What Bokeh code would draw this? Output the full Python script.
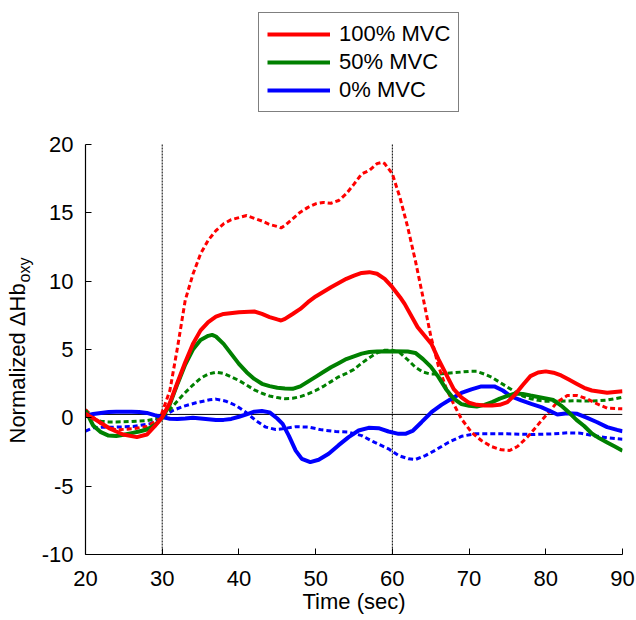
from bokeh.plotting import figure
from bokeh.models import Span, Label, Legend, LegendItem, FixedTicker, CustomJSTickFormatter
from bokeh.layouts import row
from bokeh.embed import file_html
from bokeh.resources import INLINE

# ---- data ----
t_100_solid = [20, 21.5, 23.2, 24.9, 26.7, 28, 29, 30, 31, 32, 33, 34, 35, 36, 37, 38, 40, 42, 43, 44, 45, 45.5,
               46, 47, 48, 49, 50, 52, 54, 55, 56, 57, 58, 59, 60, 61, 61.6, 63.3, 65.1, 66, 67, 68, 69, 70, 71,
               72, 73, 74, 75, 76, 77, 78, 79, 80, 81, 82, 83, 84, 85, 86, 88, 90]
hb_100_solid = [0.3, -0.2, -0.8, -1.22, -1.41, -1.22, -0.63, 0.05, 1.1, 2.6, 4.07, 5.4, 6.4, 7.0, 7.4, 7.6, 7.73,
                7.78, 7.6, 7.37, 7.2, 7.12, 7.24, 7.6, 7.97, 8.46, 8.88, 9.56, 10.17, 10.4, 10.6, 10.66, 10.54,
                10.17, 9.56, 8.83, 8.34, 6.63, 5.4, 4.3, 3.2, 2.1, 1.5, 1.1, 0.95, 0.9, 0.9, 0.95, 1.15, 1.7, 2.4,
                3.05, 3.32, 3.4, 3.3, 3.1, 2.8, 2.5, 2.2, 2.0, 1.83, 1.95]

t_100_dash = [20, 21, 22.3, 24, 26.2, 28, 29.7, 31, 32, 33, 34, 35, 36, 37, 38, 39, 40, 41, 42, 43, 44, 45, 45.5,
              46, 47, 48, 49, 50, 51, 52, 53, 54, 55, 56, 57, 58, 58.7, 59, 60, 61, 62, 63, 64, 65, 66, 67, 68,
              69, 70.3, 71.6, 72.9, 74.2, 75.3, 76.3, 77.6, 78.9, 80.2, 81.5, 82.8, 84.1, 85.4, 86.7, 88, 90]
hb_100_dash = [0.6, 0.05, -0.56, -0.88, -0.8, -0.63, -0.07, 2.0, 5.17, 8.6, 10.5, 12.0, 13.0, 13.7, 14.2, 14.5,
               14.65, 14.8, 14.6, 14.4, 14.15, 14.0, 13.9, 14.07, 14.56, 15.05, 15.4, 15.66, 15.76, 15.7, 15.9,
               16.4, 17.1, 17.85, 18.1, 18.6, 18.7, 18.6, 17.85, 16.1, 13.95, 11.5, 8.8, 6.0, 3.8, 2.2, 1.0,
               -0.07, -1.05, -1.66, -2.1, -2.34, -2.39, -2.1, -1.41, -0.56, 0.29, 1.15, 1.63, 1.63, 1.39, 1.02,
               0.7, 0.66]

t_50_solid = [20, 21, 22, 23, 24, 25, 26, 27, 28, 29, 30, 31, 32, 33, 34, 35, 36, 36.5, 37, 38, 39, 40, 41, 42,
              43, 44, 45, 46, 47, 48, 49, 50, 51, 52, 53, 54, 55, 56, 57, 58, 60, 62, 63, 64, 65, 66, 67, 68, 69,
              70, 71, 72, 73, 74, 75, 76, 77, 78, 80, 81, 82, 83, 84, 85, 86, 87, 88, 89, 90]
hb_50_solid = [0.54, -0.56, -1.05, -1.3, -1.33, -1.24, -1.12, -1.0, -0.85, -0.55, 0.0, 1.0, 2.5, 3.9, 5.0, 5.7,
               6.0, 6.07, 5.95, 5.41, 4.68, 3.95, 3.34, 2.85, 2.49, 2.32, 2.2, 2.15, 2.12, 2.3, 2.65, 3.0, 3.35,
               3.7, 4.0, 4.3, 4.5, 4.7, 4.82, 4.85, 4.88, 4.85, 4.75, 4.3, 3.75, 3.0, 2.1, 1.4, 1.0, 0.88, 0.83,
               0.95, 1.15, 1.4, 1.6, 1.78, 1.75, 1.63, 1.42, 1.3, 0.9, 0.4, -0.15, -0.6, -1.15, -1.5, -1.8, -2.1,
               -2.4]

t_50_dash = [20, 21, 22, 23, 24, 26, 28, 29, 30, 31, 32, 33, 34, 35, 36, 37, 38, 39, 40, 41, 42, 43, 44, 45, 46,
             47, 48, 49, 50, 51, 52, 53, 54, 55, 56, 57, 58, 59, 60, 61, 62, 63, 64, 65, 66, 67, 68, 69, 70, 71,
             72, 73, 74, 75, 76, 77, 78, 79, 80, 82, 84, 86, 88, 90]
hb_50_dash = [0.3, -0.05, -0.25, -0.3, -0.3, -0.27, -0.2, -0.1, 0.1, 0.6, 1.25, 1.85, 2.4, 2.9, 3.2, 3.34, 3.25,
              3.0, 2.73, 2.4, 2.05, 1.8, 1.6, 1.48, 1.4, 1.43, 1.55, 1.75, 2.0, 2.3, 2.65, 3.0, 3.25, 3.55, 4.0,
              4.4, 4.75, 4.95, 4.95, 4.75, 4.25, 3.7, 3.35, 3.2, 3.2, 3.25, 3.3, 3.35, 3.4, 3.4, 3.2, 2.95, 2.6,
              2.25, 1.9, 1.6, 1.4, 1.28, 1.22, 1.22, 1.25, 1.22, 1.3, 1.5]

t_0_solid = [20, 21, 22, 23, 24, 26, 27, 28, 29, 30, 31, 32, 33, 34, 35, 36, 37, 38, 39, 40, 41, 42, 43, 44, 45,
             45.7, 46.5, 47.4, 48.2, 49.3, 50.4, 51.7, 53, 54.3, 55.6, 56.9, 58.2, 59.5, 60.8, 61.7, 62.7, 63.8,
             65.1, 66.4, 67.7, 69, 70.3, 71.6, 73.3, 74.4, 75.5, 76.8, 78.1, 79.4, 80.7, 81.5, 82.8, 84.1, 85.4,
             86.7, 88, 89.3, 90]
hb_0_solid = [0.15, 0.28, 0.36, 0.42, 0.44, 0.44, 0.42, 0.36, 0.2, 0.05, -0.07, -0.08, -0.05, 0.0, -0.05, -0.1,
              -0.15, -0.15, -0.08, 0.08, 0.26, 0.45, 0.5, 0.4, -0.05, -0.44, -1.3, -2.4, -3.0, -3.24, -3.07,
              -2.63, -2.0, -1.41, -0.93, -0.73, -0.76, -1.0, -1.17, -1.17, -0.93, -0.32, 0.41, 0.95, 1.4, 1.82,
              2.08, 2.3, 2.3, 2.0, 1.56, 1.27, 1.02, 0.78, 0.46, 0.24, 0.34, 0.29, 0.0, -0.32, -0.68, -0.88, -0.98]

t_0_dash = [20, 21, 22.3, 24, 26.2, 28.4, 30, 31.4, 32.7, 34.4, 36.2, 37, 38.3, 39.6, 40.9, 42.2, 43.5, 44.8,
            45.7, 47.4, 49.1, 50.8, 52.6, 54.3, 56, 57.7, 59.5, 60.8, 62.1, 63, 64.3, 65.5, 67.3, 69, 70.8, 72,
            75, 78.4, 81, 82.8, 84.5, 86.2, 88, 90]
hb_0_dash = [-0.98, -0.73, -0.68, -0.68, -0.63, -0.44, 0.05, 0.54, 0.83, 1.1, 1.32, 1.37, 1.22, 0.9, 0.41, -0.2,
             -0.68, -0.85, -0.8, -0.65, -0.68, -0.88, -1.0, -1.05, -1.3, -1.8, -2.27, -2.76, -3.0, -3.05, -2.76,
             -2.4, -1.8, -1.35, -1.17, -1.17, -1.17, -1.22, -1.17, -1.1, -1.12, -1.3, -1.46, -1.56]

labels = ["100% MVC", "50% MVC", "0% MVC"]
colors = ["#ff0000", "#008000", "#0000ff"]
x_ticks = [20, 30, 40, 50, 60, 70, 80, 90]
y_ticks = [-10, -5, 0, 5, 10, 15, 20]
event_times = [30, 60]
baseline_level = 0.25

FONT = "Liberation Sans"
W, H = 636, 620
YLAB_W = 38
FRAME_L, FRAME_R, FRAME_T, FRAME_B = 82, 622, 144, 554   # where the y-axis 20..-10 sits

# frame is extended up to the canvas top so the legend can sit inside it
px_per_unit = (FRAME_B - FRAME_T) / (y_ticks[-1] - y_ticks[0])
y_top = y_ticks[-1] + FRAME_T / px_per_unit

# narrow figure that only carries the rotated y title (its frame bottom aligns with the main frame bottom)
ylab = figure(width=YLAB_W, height=H, x_range=(0, 1), y_range=(0, 1),
              output_backend="svg", toolbar_location=None,
              x_axis_location=None, y_axis_location=None,
              min_border_left=0, min_border_right=0, min_border_top=0, min_border_bottom=0)
ylab.outline_line_color = None
ylab.xgrid.visible = False
ylab.ygrid.visible = False
ylab.add_layout(Label(x=17, y=FRAME_B - 443, x_units="screen", y_units="screen", text="Normalized \u0394Hb",
                      angle=1.5707963, text_align="left", text_baseline="alphabetic",
                      text_font=FONT, text_font_size="22px", text_color="black"))
ylab.add_layout(Label(x=24, y=FRAME_B - 282, x_units="screen", y_units="screen", text="oxy",
                      angle=1.5707963, text_align="left", text_baseline="alphabetic",
                      text_font=FONT, text_font_size="16px", text_color="black"))

p = figure(width=W - YLAB_W, height=H, x_range=(x_ticks[0], x_ticks[-1]), y_range=(y_ticks[0], y_top),
           output_backend="svg", toolbar_location=None,
           min_border_left=FRAME_L - YLAB_W, min_border_right=W - FRAME_R,
           min_border_top=0, min_border_bottom=H - FRAME_B)
p.outline_line_color = None
p.background_fill_color = "white"
p.border_fill_color = "white"
p.xgrid.visible = False
p.ygrid.visible = False

for ax, ticks in ((p.xaxis, x_ticks), (p.yaxis, y_ticks)):
    ax.ticker = FixedTicker(ticks=ticks)
    ax.bounds = (ticks[0], ticks[-1])
    ax.major_tick_in = 6
    ax.major_tick_out = 0
    ax.minor_tick_line_color = None
    ax.axis_line_color = "black"
    ax.axis_line_width = 1.2
    ax.major_tick_line_color = "black"
    ax.major_label_text_font = FONT
    ax.major_label_text_font_size = "22px"
    ax.major_label_text_color = "black"
    ax.formatter = CustomJSTickFormatter(code="return tick.toString()")
p.yaxis.major_label_standoff = 12
p.xaxis.major_label_standoff = 16

p.xaxis.axis_label = "Time (sec)"
p.xaxis.axis_label_text_font = FONT
p.xaxis.axis_label_text_font_size = "22px"
p.xaxis.axis_label_text_font_style = "normal"
p.xaxis.axis_label_text_color = "black"
p.xaxis.axis_label_standoff = 0

# reference lines
p.add_layout(Span(location=baseline_level, dimension="width", line_color="black",
                  line_width=1, level="underlay"))
p.segment(x0=event_times, y0=[y_ticks[0]] * len(event_times),
          x1=event_times, y1=[y_ticks[-1]] * len(event_times),
          line_color="black", line_width=1, line_dash="2 1")

series_dash = [(t_0_dash, hb_0_dash, 2), (t_50_dash, hb_50_dash, 1), (t_100_dash, hb_100_dash, 0)]
series_solid = [(t_0_solid, hb_0_solid, 2), (t_50_solid, hb_50_solid, 1), (t_100_solid, hb_100_solid, 0)]

for t, hb, i in series_dash:
    p.line(t, hb, line_color=colors[i], line_width=3, line_dash="5 3")

solid_renderers = {}
for t, hb, i in series_solid:
    solid_renderers[i] = p.line(t, hb, line_color=colors[i], line_width=4)

legend = Legend(items=[LegendItem(label=labels[i], renderers=[solid_renderers[i]]) for i in range(3)],
                location=(255 - FRAME_L, FRAME_B - 112), orientation="vertical",
                label_text_font=FONT, label_text_font_size="22px", label_text_color="black",
                label_height=24, glyph_height=24, glyph_width=63, label_standoff=9,
                spacing=2, padding=8, margin=0,
                border_line_color="black", border_line_width=1,
                background_fill_color="white", background_fill_alpha=1.0)
p.add_layout(legend)

layout = row(ylab, p, spacing=0)
open("out.html", "w").write(file_html(layout, INLINE))
